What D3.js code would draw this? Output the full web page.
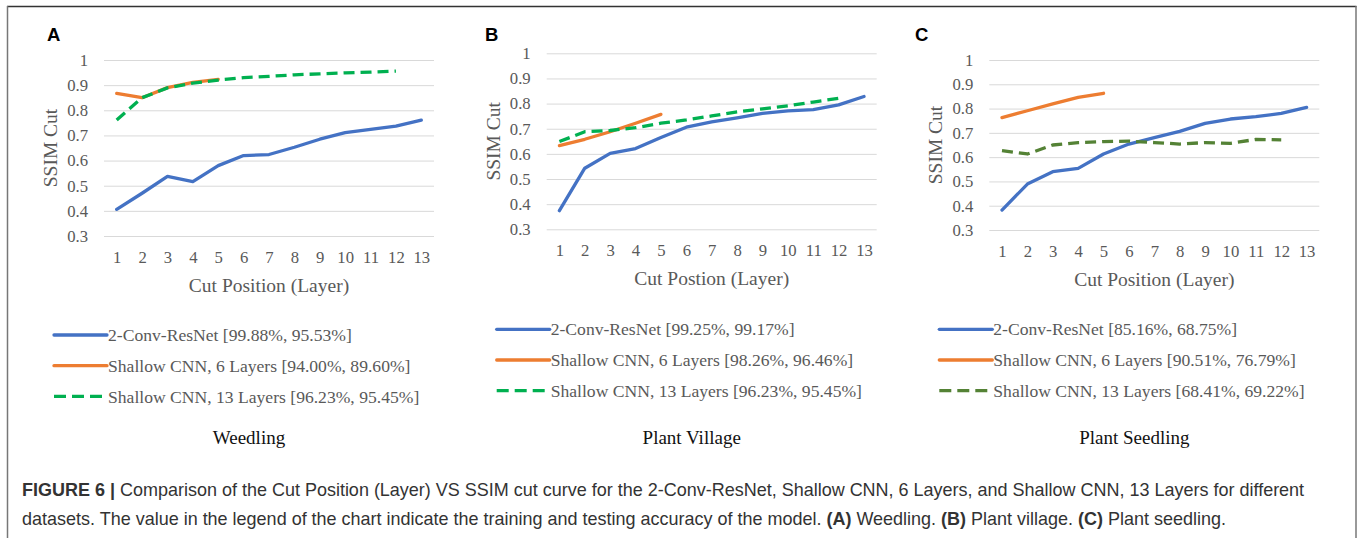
<!DOCTYPE html>
<html>
<head>
<meta charset="utf-8">
<script src="https://cdn.jsdelivr.net/npm/d3@7"></script>
<style>
  html, body { margin: 0; padding: 0; background: #fff; }
  svg { display: block; }
</style>
</head>
<body>
<svg id="chart" width="1363" height="538"></svg>
<script>
// ---------------- DATA ----------------
const categories = [1, 2, 3, 4, 5, 6, 7, 8, 9, 10, 11, 12, 13];
const yTickValues = [0.3, 0.4, 0.5, 0.6, 0.7, 0.8, 0.9, 1];
const yTickLabels = ["0.3", "0.4", "0.5", "0.6", "0.7", "0.8", "0.9", "1"];

const panelLetters = ["A", "B", "C"];
const panelTitles = ["Weedling", "Plant Village", "Plant Seedling"];
const xAxisTitles = ["Cut Position (Layer)", "Cut Postion (Layer)", "Cut Position (Layer)"];
const yAxisTitle = "SSIM Cut";

const seriesNames = ["2-Conv-ResNet", "Shallow CNN, 6 Layers", "Shallow CNN, 13 Layers"];

// legend accuracies [train, test] per panel per series
const accuraciesA = ["[99.88%, 95.53%]", "[94.00%, 89.60%]", "[96.23%, 95.45%]"];
const accuraciesB = ["[99.25%, 99.17%]", "[98.26%, 96.46%]", "[96.23%, 95.45%]"];
const accuraciesC = ["[85.16%, 68.75%]", "[90.51%, 76.79%]", "[68.41%, 69.22%]"];

// Panel A: Weedling
const resnetA  = [0.406, 0.470, 0.537, 0.516, 0.580, 0.620, 0.624, 0.653, 0.685, 0.711, 0.724, 0.737, 0.761];
const shallow6A  = [0.867, 0.850, 0.890, 0.911, 0.923];
const shallow13A = [0.761, 0.850, 0.889, 0.908, 0.920, 0.930, 0.935, 0.941, 0.945, 0.949, 0.952, 0.956];

// Panel B: Plant Village
const resnetB  = [0.374, 0.543, 0.602, 0.621, 0.665, 0.706, 0.727, 0.743, 0.761, 0.771, 0.776, 0.795, 0.828];
const shallow6B  = [0.633, 0.658, 0.688, 0.722, 0.757];
const shallow13B = [0.649, 0.688, 0.693, 0.704, 0.722, 0.735, 0.751, 0.767, 0.779, 0.791, 0.806, 0.821];

// Panel C: Plant Seedling
const resnetC  = [0.382, 0.489, 0.540, 0.554, 0.613, 0.654, 0.680, 0.706, 0.739, 0.757, 0.767, 0.780, 0.805];
const shallow6C  = [0.763, 0.791, 0.819, 0.846, 0.863];
const shallow13C = [0.627, 0.613, 0.650, 0.660, 0.664, 0.666, 0.660, 0.654, 0.660, 0.657, 0.673, 0.671];

const captionLine1 = [
  {t: "FIGURE 6 | ", b: true},
  {t: "Comparison of the Cut Position (Layer) VS SSIM cut curve for the 2-Conv-ResNet, Shallow CNN, 6 Layers, and Shallow CNN, 13 Layers for different", b: false}
];
const captionLine2 = [
  {t: "datasets. The value in the legend of the chart indicate the training and testing accuracy of the model. ", b: false},
  {t: "(A)", b: true}, {t: " Weedling. ", b: false},
  {t: "(B)", b: true}, {t: " Plant village. ", b: false},
  {t: "(C)", b: true}, {t: " Plant seedling.", b: false}
];

// ---------------- STYLE / LAYOUT ----------------
const colBlue = "#4472C4", colOrange = "#ED7D31", colGreen = "#00B050", colDarkGreen = "#548235";
const serif = "'Liberation Serif', 'Times New Roman', serif";
const sans = "'Liberation Sans', Arial, Helvetica, sans-serif";
const axisGray = "#595959";

const panels = [
  { x0: 104, x1: 434, yTop: 60, yBot: 236, letterX: 47, legTop: 335, titleY: 437,
    series: [resnetA, shallow6A, shallow13A], acc: accuraciesA, colors: [colBlue, colOrange, colGreen] },
  { x0: 546.7, x1: 876.7, yTop: 53.3, yBot: 229.3, letterX: 485, legTop: 329.3, titleY: 437,
    series: [resnetB, shallow6B, shallow13B], acc: accuraciesB, colors: [colBlue, colOrange, colGreen] },
  { x0: 989.3, x1: 1319.3, yTop: 60, yBot: 230, letterX: 915, legTop: 329.3, titleY: 437,
    series: [resnetC, shallow6C, shallow13C], acc: accuraciesC, colors: [colBlue, colOrange, colDarkGreen] }
];
const dashed = [false, false, true];

const svg = d3.select("#chart");

// frame
svg.append("line").attr("x1", 7).attr("x2", 1356.5).attr("y1", 6.5).attr("y2", 6.5)
  .attr("stroke", "#333").attr("stroke-width", 1.5);
svg.append("line").attr("x1", 7.5).attr("x2", 7.5).attr("y1", 6).attr("y2", 538)
  .attr("stroke", "#777").attr("stroke-width", 1.5);
svg.append("line").attr("x1", 1356).attr("x2", 1356).attr("y1", 6).attr("y2", 538)
  .attr("stroke", "#777").attr("stroke-width", 1.5);

panels.forEach((p, pi) => {
  const g = svg.append("g");
  const x = d3.scalePoint().domain(categories).range([p.x0, p.x1]).padding(0.5);
  const y = d3.scaleLinear().domain([0.3, 1]).range([p.yBot, p.yTop]);

  // gridlines via axis
  const yAxis = d3.axisLeft(y).tickValues(yTickValues)
    .tickFormat((d, i) => yTickLabels[i]).tickSize(-(p.x1 - p.x0)).tickPadding(16);
  const ya = g.append("g").attr("transform", `translate(${p.x0},0)`).call(yAxis);
  ya.select(".domain").remove();
  ya.selectAll(".tick line").attr("stroke", "#d9d9d9").attr("stroke-width", 1);
  ya.selectAll(".tick text").attr("fill", axisGray).attr("font-family", serif)
    .attr("font-size", 16.7);

  const xAxis = d3.axisBottom(x).tickSize(0).tickPadding(15);
  const xa = g.append("g").attr("transform", `translate(0,${p.yBot})`).call(xAxis);
  xa.select(".domain").remove();
  xa.selectAll(".tick text").attr("fill", axisGray).attr("font-family", serif)
    .attr("font-size", 16.7);

  // axis titles
  g.append("text").attr("x", (p.x0 + p.x1) / 2).attr("y", p.yBot + 49).attr("dy", "0.35em")
    .attr("text-anchor", "middle").attr("fill", axisGray).attr("font-family", serif)
    .attr("font-size", 19.5).text(xAxisTitles[pi]);
  g.append("text")
    .attr("transform", `translate(${p.x0 - 54},${(p.yTop + p.yBot) / 2}) rotate(-90)`)
    .attr("dy", "0.35em").attr("text-anchor", "middle").attr("fill", axisGray)
    .attr("font-family", serif).attr("font-size", 19.5).text(yAxisTitle);

  // panel letter
  g.append("text").attr("x", p.letterX).attr("y", 41).attr("font-family", sans)
    .attr("font-weight", "bold").attr("font-size", 18.5).attr("fill", "#000")
    .text(panelLetters[pi]);

  // lines
  const line = d3.line().x((d, i) => x(categories[i])).y(d => y(d));
  p.series.forEach((s, si) => {
    g.append("path").datum(s).attr("d", line).attr("fill", "none")
      .attr("stroke", p.colors[si]).attr("stroke-width", 3.3)
      .attr("stroke-linejoin", "round")
      .attr("stroke-linecap", dashed[si] ? "butt" : "round")
      .attr("stroke-dasharray", dashed[si] ? "11,6" : null);
  });

  // legend
  const lx0 = p.x0 - 50, lx1 = p.x0 + 3;
  seriesNames.forEach((name, si) => {
    const ly = p.legTop + si * 30.7;
    g.append("line").attr("x1", lx0).attr("x2", lx1).attr("y1", ly).attr("y2", ly)
      .attr("stroke", p.colors[si]).attr("stroke-width", 3.3)
      .attr("stroke-linecap", dashed[si] ? "butt" : "round")
      .attr("stroke-dasharray", dashed[si] ? "12,6" : null);
    g.append("text").attr("x", lx1 + 1).attr("y", ly).attr("dy", "0.35em")
      .attr("fill", axisGray).attr("font-family", serif).attr("font-size", 17.6)
      .text(name + " " + p.acc[si]);
  });

  // panel title
  g.append("text").attr("x", (p.x0 + p.x1) / 2 - 20).attr("y", p.titleY).attr("dy", "0.35em")
    .attr("text-anchor", "middle").attr("fill", "#111").attr("font-family", serif)
    .attr("font-size", 19).text(panelTitles[pi]);
});

// caption
function addCaption(parts, yBase) {
  const t = svg.append("text").attr("x", 22).attr("y", yBase).attr("font-family", sans)
    .attr("font-size", 16).attr("fill", "#333");
  parts.forEach(pt => t.append("tspan").attr("font-weight", pt.b ? "bold" : null).text(pt.t));
  return t;
}
const c1 = addCaption(captionLine1, 496);
const c2 = addCaption(captionLine2, 525);
const w1 = c1.node().getComputedTextLength();
const fs = 16 * 1283 / w1;
c1.attr("font-size", fs);
c2.attr("font-size", fs);
</script>
</body>
</html>
